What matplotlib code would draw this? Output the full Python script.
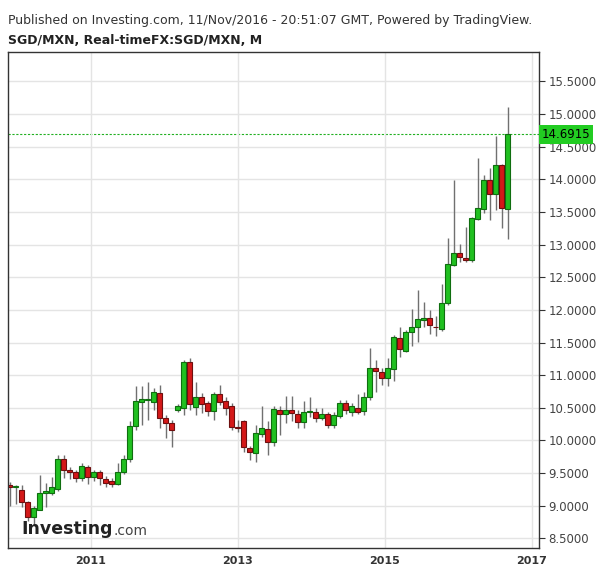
import matplotlib.pyplot as plt
import numpy as np

# monthly candles SGD/MXN (open, high, low, close)
opens = [9.32, 9.29, 9.24, 9.05, 8.82, 8.94, 9.20, 9.20, 9.26, 9.72, 9.55, 9.52, 9.43, 9.60, 9.44, 9.51, 9.41, 9.38, 9.34, 9.52,
         9.72, 10.22, 10.59, 10.62, 10.59, 10.73, 10.35, 10.26, 10.47, 10.50, 11.20, 10.515, 10.67, 10.58, 10.45, 10.71, 10.61, 10.52, 10.21, 10.30,
         9.89, 9.81, 10.10, 10.18, 9.98, 10.47, 10.41, 10.47, 10.41, 10.29, 10.44, 10.44, 10.35, 10.41, 10.24, 10.38, 10.58, 10.44, 10.50, 10.45,
         10.67, 11.11, 11.05, 10.96, 11.10, 11.57, 11.37, 11.66, 11.73, 11.85, 11.88, 11.74, 11.71, 12.11, 12.69, 12.87, 12.80, 12.77, 13.39, 13.55,
         13.99, 13.78, 14.22, 13.55]
highs = [9.37, 9.32, 9.32, 9.08, 9.00, 9.47, 9.35, 9.44, 9.78, 9.78, 9.60, 9.55, 9.66, 9.63, 9.55, 9.55, 9.46, 9.43, 9.66, 9.78,
         10.30, 10.84, 10.84, 10.90, 10.80, 10.85, 10.39, 10.32, 10.56, 11.235, 11.27, 10.90, 10.73, 10.61, 10.74, 10.85, 10.67, 10.58, 10.32, 10.32,
         9.92, 10.24, 10.53, 10.30, 10.53, 10.53, 10.68, 10.68, 10.47, 10.61, 10.67, 10.50, 10.50, 10.44, 10.44, 10.62, 10.62, 10.58, 10.71, 10.74,
         11.42, 11.235, 11.11, 11.27, 11.62, 11.73, 11.69, 12.01, 12.31, 12.12, 12.00, 11.91, 12.39, 13.10, 13.99, 13.01, 13.27, 13.42, 14.33, 14.07,
         14.18, 14.67, 14.24, 15.11]
lows = [9.00, 9.02, 8.98, 8.76, 8.71, 8.93, 8.98, 9.17, 9.23, 9.43, 9.41, 9.37, 9.38, 9.34, 9.38, 9.32, 9.29, 9.29, 9.31, 9.49,
        9.67, 10.16, 10.24, 10.32, 10.47, 10.19, 10.03, 9.90, 10.44, 10.39, 10.47, 10.39, 10.42, 10.38, 10.32, 10.55, 10.39, 10.16, 10.13, 9.83,
        9.70, 9.67, 10.06, 9.78, 9.92, 10.09, 10.26, 10.30, 10.19, 10.19, 10.36, 10.29, 10.32, 10.19, 10.19, 10.35, 10.41, 10.38, 10.41, 10.39,
        10.62, 10.74, 10.85, 10.84, 10.91, 11.28, 11.36, 11.45, 11.51, 11.73, 11.63, 11.60, 11.68, 12.08, 12.67, 12.73, 12.73, 12.73, 13.38, 13.49,
        13.38, 13.53, 13.26, 13.09]
closes = [9.29, 9.30, 9.05, 8.82, 8.96, 9.20, 9.23, 9.28, 9.72, 9.54, 9.51, 9.43, 9.61, 9.44, 9.51, 9.43, 9.35, 9.34, 9.52, 9.72,
          10.22, 10.61, 10.64, 10.62, 10.74, 10.35, 10.26, 10.16, 10.53, 11.20, 10.56, 10.67, 10.56, 10.45, 10.71, 10.59, 10.50, 10.21, 10.19, 9.90,
          9.83, 10.12, 10.19, 9.98, 10.48, 10.41, 10.47, 10.42, 10.29, 10.44, 10.44, 10.35, 10.41, 10.24, 10.39, 10.58, 10.47, 10.52, 10.44, 10.67,
          11.11, 11.07, 10.96, 11.11, 11.59, 11.40, 11.66, 11.73, 11.86, 11.88, 11.77, 11.73, 12.11, 12.71, 12.87, 12.81, 12.77, 13.41, 13.56, 13.99,
          13.78, 14.22, 13.56, 14.6915]

year_labels = ["2011", "2013", "2015", "2017"]
year_pos = [13.5, 38.0, 62.5, 87.0]   # candle index where each year starts
last_price = 14.6915

fig = plt.figure(figsize=(5.98, 5.76), dpi=100)
ax = fig.add_axes([0.013, 0.049, 0.888, 0.861])

x = np.arange(len(opens))
up_col, up_edge = "#20c020", "#0f6e0f"
dn_col, dn_edge = "#d41818", "#6e0f0f"
for i, o, h, l, c in zip(x, opens, highs, lows, closes):
    up = c >= o
    ax.vlines(i, l, h, color="#707070", lw=1, zorder=1)
    bottom = min(o, c)
    height = max(abs(c - o), 0.012)
    ax.bar(i, height, bottom=bottom, width=0.8,
           color=up_col if up else dn_col, edgecolor=up_edge if up else dn_edge,
           lw=0.8, zorder=2)

ax.axhline(last_price, color="#22b022", lw=0.8, ls=(0, (2, 1.5)), zorder=0)

ax.set_xlim(-0.33, 88.2)
ax.set_ylim(8.356, 15.952)
ax.set_xticks(year_pos)
ax.set_xticklabels(year_labels, fontsize=8, fontweight="bold", color="#333333")
ax.set_yticks(np.arange(8.5, 15.6, 0.5))
ax.set_yticklabels([f"{v:.4f}" for v in np.arange(8.5, 15.6, 0.5)], fontsize=8.5, color="#444444")
ax.yaxis.tick_right()
ax.tick_params(axis="y", length=4, color="#333333", pad=3)
ax.tick_params(axis="x", length=0, pad=6)
ax.grid(True, color="#e4e4e4", lw=1)
ax.set_axisbelow(True)
for s in ax.spines.values():
    s.set_color("#333333")
    s.set_linewidth(1)

# current price label
ax.text(1.005, last_price, f"{last_price:.4f}", transform=ax.get_yaxis_transform(),
        va="center", ha="left", fontsize=8.5, color="black",
        bbox=dict(boxstyle="square,pad=0.25", fc="#22cc22", ec="none"), zorder=5)

# watermark
ax.text(0.026, 0.02, "Investing", transform=ax.transAxes, fontsize=12.5,
        fontweight="bold", color="#222222", ha="left", va="bottom")
ax.text(0.2, 0.02, ".com", transform=ax.transAxes, fontsize=10,
        color="#444444", ha="left", va="bottom")

fig.text(0.013, 0.965, "Published on Investing.com, 11/Nov/2016 - 20:51:07 GMT, Powered by TradingView.",
         fontsize=9, color="#333333", ha="left", va="center")
fig.text(0.013, 0.93, "SGD/MXN, Real-timeFX:SGD/MXN, M", fontsize=9, fontweight="bold",
         color="#222222", ha="left", va="center")

plt.savefig("out.png", dpi=100)
